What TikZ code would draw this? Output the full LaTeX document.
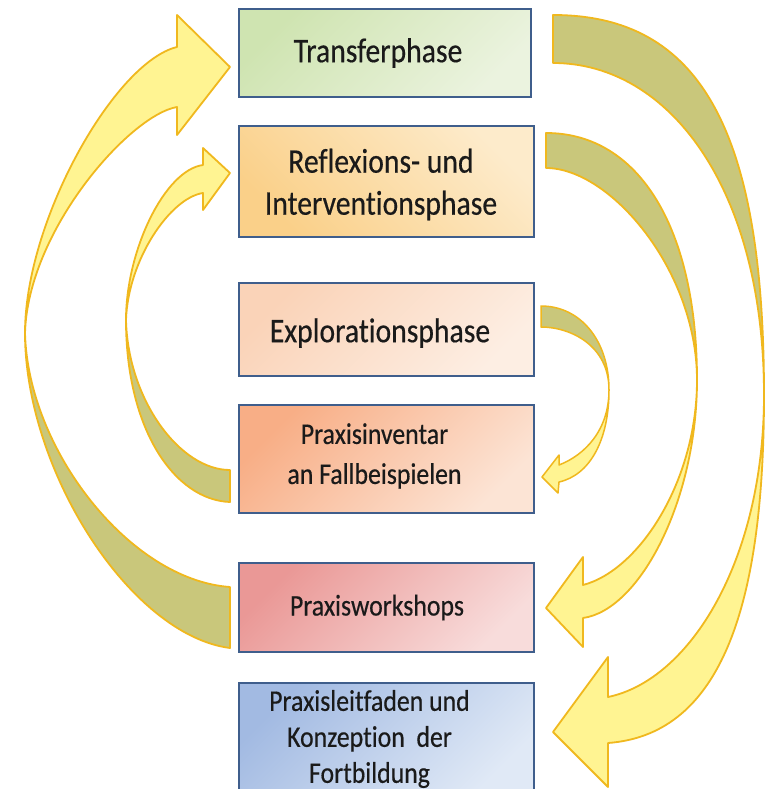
\documentclass[tikz,border=0pt]{standalone}
\usepackage{fontspec}
\setmainfont{Carlito}[Ligatures=NoCommon, FakeStretch=0.86, FakeBold=0.4]
\definecolor{arrlight}{HTML}{FFF492}
\definecolor{arrdark}{HTML}{C9C77B}
\definecolor{arrline}{HTML}{F0B81E}
\definecolor{boxline}{HTML}{3F5E8C}
\definecolor{txt}{HTML}{1A1A1A}
\definecolor{trA}{HTML}{CFE4B1}\definecolor{trB}{HTML}{EBF3DF}
\definecolor{reA}{HTML}{FAD089}\definecolor{reB}{HTML}{FDEBCB}
\definecolor{exA}{HTML}{FAD3B8}\definecolor{exB}{HTML}{FDEEE3}
\definecolor{inA}{HTML}{F8AE86}\definecolor{inB}{HTML}{FCE4D5}
\definecolor{wsA}{HTML}{EA9896}\definecolor{wsB}{HTML}{F8DCDB}
\definecolor{leA}{HTML}{A2BAE2}\definecolor{leB}{HTML}{E0E9F6}
\newcommand\BigFont{\fontsize{34.5}{42}\selectfont}
\newcommand\MidFont{\fontsize{30}{40}\selectfont}
\newcommand\LeitFont{\fontsize{30}{36}\selectfont}
\tikzset{
  box/.style={draw=boxline, line width=2pt, inner sep=0pt},
  lab/.style={inner sep=0pt, align=center, text=txt},
  front/.style={fill=arrlight, draw=arrline, line width=1.8pt, line join=round},
  back/.style={fill=arrdark, draw=arrline, line width=1.8pt, line join=round},
}
\begin{document}
\begin{tikzpicture}[x=1pt, y=-1pt]
\useasboundingbox (0,0) rectangle (768,789);
\fill[white] (0,0) rectangle (768,789);

% left outer arrow: Praxisworkshops -> Transferphase
\draw[back] (25,333) .. controls (25,470) and (130,635) .. (230,648) -- (230,587) .. controls (130,580) and (28,450) .. (25,333) -- cycle;
\draw[front] (25,333) .. controls (25,220) and (115,62) .. (177,47) -- (177,15) -- (230,67) -- (177,135) -- (177,107) .. controls (130,115) and (28,230) .. (25,333) -- cycle;

% left inner arrow: Praxisinventar -> Reflexions
\draw[back] (126,320) .. controls (126,430) and (175,500) .. (230,502) -- (230,470) .. controls (180,470) and (128,400) .. (126,320) -- cycle;
\draw[front] (126,320) .. controls (126,250) and (165,170) .. (203,165) -- (203,148) -- (230,173) -- (203,210) -- (203,193) .. controls (170,198) and (128,260) .. (126,320) -- cycle;

% right outer arrow: Transferphase -> Praxisleitfaden
\draw[back] (553,15) .. controls (700,15) and (764,130) .. (764,395) .. controls (764,190) and (670,63) .. (553,63) -- cycle;
\draw[front] (764,395) .. controls (764,620) and (715,735) .. (608,743) -- (608,787) -- (553,732) -- (608,657) -- (608,697) .. controls (690,680) and (764,560) .. (764,395) -- cycle;

% right middle arrow: Reflexions -> Praxisworkshops
\draw[back] (546,133) .. controls (640,133) and (697,230) .. (697,380) .. controls (697,270) and (610,168) .. (546,168) -- cycle;
\draw[front] (697,380) .. controls (697,500) and (640,610) .. (583,618) -- (583,647) -- (546,608) -- (583,557) -- (583,585) .. controls (640,570) and (697,480) .. (697,380) -- cycle;

% right inner arrow: Explorationphase -> Praxisinventar
\draw[back, line width=1.5pt] (541,306) .. controls (580,306) and (609,340) .. (609,390) .. controls (609,345) and (570,327) .. (541,327) -- cycle;
\draw[front, line width=1.5pt] (609,390) .. controls (609,440) and (590,475) .. (559,482) -- (558,493) -- (542,477) -- (559,455) -- (559,465) .. controls (585,455) and (609,430) .. (609,390) -- cycle;

% boxes
\node[box, minimum width=292pt, minimum height=88pt, top color=trA, bottom color=trB, shading angle=45,
  label={[lab, font=\BigFont, xshift=-7pt]center:Transferphase}] (transfer) at (385,53) {};
\node[box, minimum width=295pt, minimum height=111pt, top color=reB, bottom color=reA, shading angle=-45,
  label={[lab, font=\BigFont, xshift=-5.5pt, yshift=-3pt]center:{Reflexions- und\\Interventionsphase}}] (reflex) at (386.5,181.5) {};
\node[box, minimum width=295pt, minimum height=93pt, top color=exA, bottom color=exB, shading angle=45,
  label={[lab, font=\BigFont, xshift=-6.5pt, yshift=-3.5pt]center:Explorationsphase}] (explor) at (386.5,329.5) {};
\node[box, minimum width=295pt, minimum height=108pt, top color=inA, bottom color=inB, shading angle=45,
  label={[lab, font=\MidFont, xshift=-12pt, yshift=3pt]center:{Praxisinventar\\an Fallbeispielen}}] (invent) at (386.5,459) {};
\node[box, minimum width=295pt, minimum height=89pt, top color=wsA, bottom color=wsB, shading angle=45,
  label={[lab, font=\MidFont, xshift=-9.5pt]center:Praxisworkshops}] (works) at (386.5,607.5) {};
\node[box, minimum width=295pt, minimum height=112pt, top color=leA, bottom color=leB, shading angle=45,
  label={[lab, font=\LeitFont, xshift=-17pt]center:{Praxisleitfaden und\\Konzeption\ \ der\\Fortbildung}}] (leit) at (386.5,739) {};
\end{tikzpicture}
\end{document}
